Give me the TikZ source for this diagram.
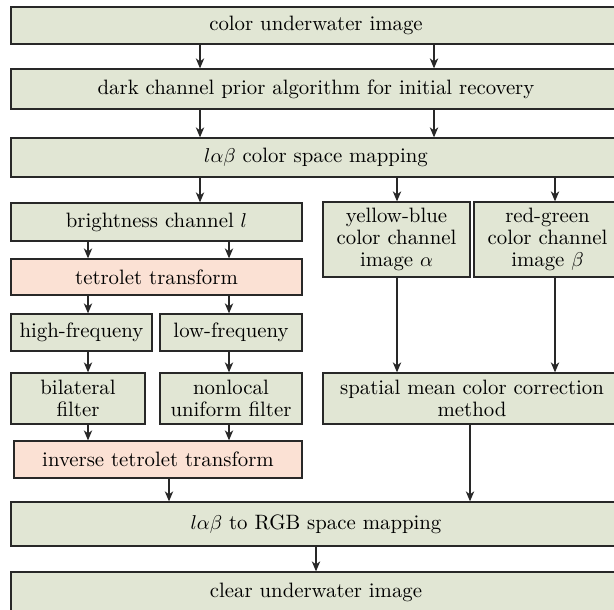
\documentclass[tikz,border=0pt]{standalone}
\usepackage{tikz,amsmath}
\usetikzlibrary{arrows.meta}

\definecolor{boxgreen}{RGB}{225,230,212}
\definecolor{boxpink}{RGB}{251,225,212}
\definecolor{edgegray}{RGB}{40,40,40}

\begin{document}
\begin{tikzpicture}[
        %We work in pixel-like units, y grows downwards
        x=0.5pt, y=-0.5pt,
        stepbox/.style={draw=edgegray, line width=0.65pt, inner sep=0pt,
            align=center, font=\fontsize{10.4}{11.2}\selectfont},
        green box/.style={stepbox, fill=boxgreen},
        pink box/.style={stepbox, fill=boxpink},
        flow/.style={line width=0.55pt, ->, >={Stealth[length=5pt,width=4.2pt,inset=1.5pt]}, color=edgegray}
     ]
\useasboundingbox (0,0) rectangle (614,609);
\clip (0,0) rectangle (614,609);
\begin{scope}
% Columns of the arrows are defined
    \coordinate (main l) at (200,0);
    \coordinate (main r) at (434,0);
    \coordinate (alpha) at (397,0);
    \coordinate (beta) at (555,0);
    \coordinate (high) at (88,0);
    \coordinate (low) at (229,0);
    \coordinate (back l) at (169,0);
    \coordinate (back r) at (470,0);
    \coordinate (out) at (316,0);

    % top part
    \node[green box, minimum width=305pt, minimum height=18.5pt] (cui) at (316,25.5) {color underwater image};
    \node[green box, minimum width=305pt, minimum height=20pt] (dcp) at (316,89) {dark channel prior algorithm for initial recovery};
    \node[green box, minimum width=305pt, minimum height=19.5pt] (lab) at (316,157.5) {$l\alpha\beta$ color space mapping};

    % brightness branch
    \node[green box, minimum width=145.5pt, minimum height=19pt] (bright) at (156.5,222) {brightness channel $l$};
    \node[pink box, minimum width=145.5pt, minimum height=18pt] (tet) at (156.5,277) {tetrolet transform};
    \node[green box, minimum width=70.5pt, minimum height=18.5pt] (hf) at (81.5,332.5) {high-frequeny};
    \node[green box, minimum width=71pt, minimum height=18.5pt] (lf) at (231,332.5) {low-frequeny};
    \node[green box, minimum width=67pt, minimum height=25.5pt] (bil) at (78,398.5) {bilateral\\filter};
    \node[green box, minimum width=71pt, minimum height=25.5pt] (nlu) at (231,398.5) {nonlocal\\uniform filter};
    \node[pink box, minimum width=144pt, minimum height=18.5pt] (inv) at (158,459.5) {inverse tetrolet transform};

    % colour branch
    \node[green box, minimum width=73.5pt, minimum height=37.5pt] (yb) at (396.5,239.5) {yellow-blue\\color channel\\image $\alpha$};
    \node[green box, minimum width=73.5pt, minimum height=37.5pt] (rg) at (547.5,239.5) {red-green\\color channel\\image $\beta$};
    \node[green box, minimum width=149pt, minimum height=25.5pt] (smc) at (472,398.5) {spatial mean color correction\\method};

    % bottom part
    \node[green box, minimum width=305pt, minimum height=22pt] (rgb) at (316,524) {$l\alpha\beta$ to RGB space mapping};
    \node[green box, minimum width=305pt, minimum height=20.5pt] (clear) at (316,592.5) {clear underwater image};

    % arrows
    \draw[flow] (main l |- cui.south) -- (main l |- dcp.north);
    \draw[flow] (main r |- cui.south) -- (main r |- dcp.north);
    \draw[flow] (main l |- dcp.south) -- (main l |- lab.north);
    \draw[flow] (main r |- dcp.south) -- (main r |- lab.north);
    \draw[flow] (main l |- lab.south) -- (main l |- bright.north);
    \draw[flow] (alpha |- lab.south) -- (alpha |- yb.north);
    \draw[flow] (beta |- lab.south) -- (beta |- rg.north);
    \draw[flow] (high |- bright.south) -- (high |- tet.north);
    \draw[flow] (low |- bright.south) -- (low |- tet.north);
    \draw[flow] (high |- tet.south) -- (high |- hf.north);
    \draw[flow] (low |- tet.south) -- (low |- lf.north);
    \draw[flow] (high |- hf.south) -- (high |- bil.north);
    \draw[flow] (low |- lf.south) -- (low |- nlu.north);
    \draw[flow] (high |- bil.south) -- (high |- inv.north);
    \draw[flow] (low |- nlu.south) -- (low |- inv.north);
    \draw[flow] (alpha |- yb.south) -- (alpha |- smc.north);
    \draw[flow] (beta |- rg.south) -- (beta |- smc.north);
    \draw[flow] (back l |- inv.south) -- (back l |- rgb.north);
    \draw[flow] (back r |- smc.south) -- (back r |- rgb.north);
    \draw[flow] (out |- rgb.south) -- (out |- clear.north);
\end{scope}
\end{tikzpicture}
\end{document}
